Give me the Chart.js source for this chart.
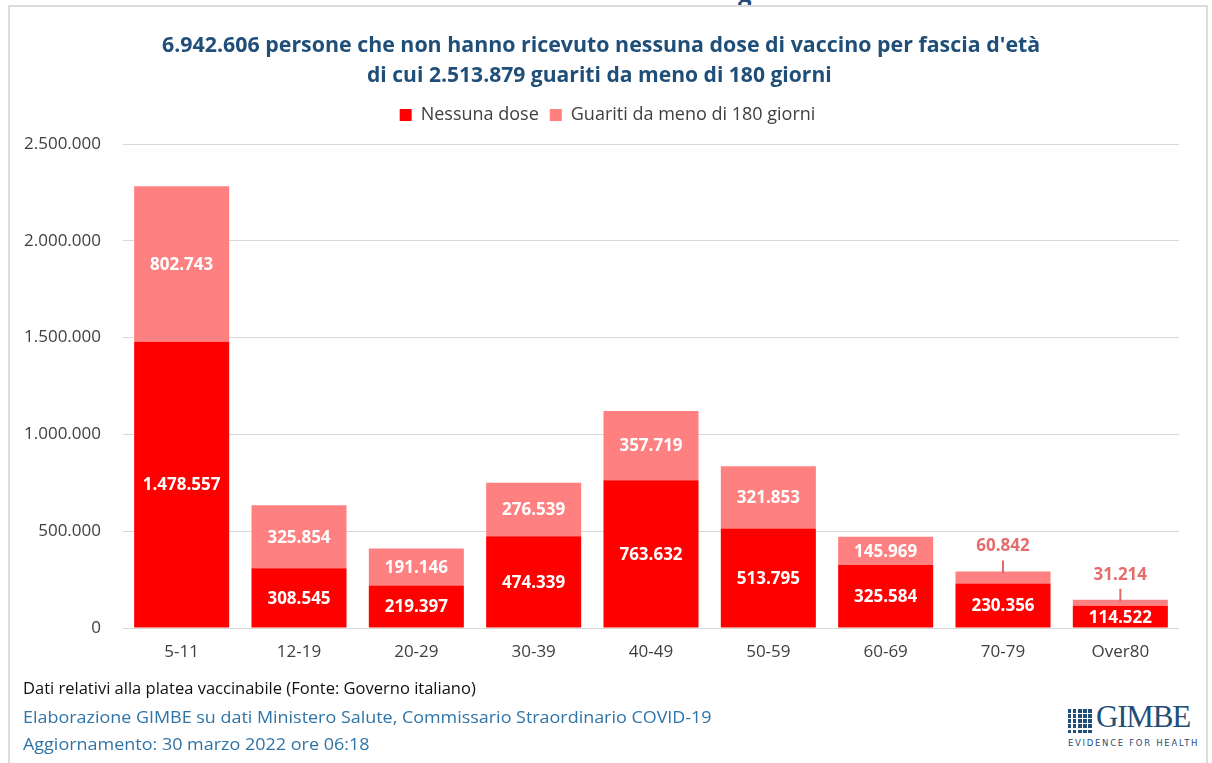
<!DOCTYPE html>
<html>
<head>
<meta charset="utf-8">
<script src="https://cdn.jsdelivr.net/npm/chart.js@4/dist/chart.umd.min.js"></script>
<style>
  body { margin: 0; width: 1212px; height: 763px; background: #fff; overflow: hidden; position: relative; font-family: "Open Sans", sans-serif; }
  .frame { position: absolute; left: 8px; top: 5px; width: 1200px; height: 780px; border: 2px solid #dcdcdc; box-sizing: border-box; }
  .topg { position: absolute; left: 738px; top: 0; height: 5px; overflow: hidden; width: 20px; }
  .topg span { position: absolute; top: -24px; font: bold 24px "Open Sans"; color: #1f4e79; }
  .t { position: absolute; white-space: nowrap; display: inline-block; }
  .title { font-weight: bold; font-size: 21px; color: #1f4e79; transform-origin: left center; }
  .foot { font-size: 16px; transform-origin: left center; }
  #wrap { position: absolute; left: 0; top: 95px; width: 1212px; height: 575px; }
  .logo { position: absolute; left: 1068px; top: 704px; width: 124px; height: 46px; }
  .logo .g2 { position: absolute; left: 0; top: 5px; width: 25px; height: 24px;
    background: repeating-linear-gradient(90deg, #1f4e79 0 3.4px, #fff 3.4px 5.1px);
    -webkit-mask: repeating-linear-gradient(0deg, #000 0 3.4px, transparent 3.4px 5.1px);
            mask: repeating-linear-gradient(0deg, #000 0 3.4px, transparent 3.4px 5.1px);
  }
  .logo .name { position: absolute; left: 28px; top: -5px; font: 31px "Liberation Serif", serif; color: #1f4e79; letter-spacing: -1.2px; }
  .logo .sub { position: absolute; left: 0; top: 34px; font: 8.5px "DejaVu Sans", sans-serif; color: #1f4e79; letter-spacing: 1.7px; white-space: nowrap; }
</style>
</head>
<body>
<div class="frame"></div>
<div class="topg"><span>g</span></div>

<div class="t title" id="t1" style="left:162px; top:30px;">6.942.606 persone che non hanno ricevuto nessuna dose di vaccino per fascia d'età</div>
<div class="t title" id="t2" style="left:367px; top:60px;">di cui 2.513.879 guariti da meno di 180 giorni</div>

<div id="wrap"><canvas id="chart"></canvas></div>

<div class="t foot" id="f1" style="left:23px; top:677px; color:#111;">Dati relativi alla platea vaccinabile (Fonte: Governo italiano)</div>
<div class="t foot" id="f2" style="left:23px; top:706px; color:#2e74a8;">Elaborazione GIMBE su dati Ministero Salute, Commissario Straordinario COVID-19</div>
<div class="t foot" id="f3" style="left:23px; top:733px; color:#2e74a8;">Aggiornamento: 30 marzo 2022 ore 06:18</div>

<div class="logo">
  <div class="g2"></div>
  <div class="name">GIMBE</div>
  <div class="sub">EVIDENCE FOR HEALTH</div>
</div>

<script>
const categories = ['5-11', '12-19', '20-29', '30-39', '40-49', '50-59', '60-69', '70-79', 'Over80'];
const nessunaDose = [1478557, 308545, 219397, 474339, 763632, 513795, 325584, 230356, 114522];
const guariti = [802743, 325854, 191146, 276539, 357719, 321853, 145969, 60842, 31214];
const yTicks = [0, 500000, 1000000, 1500000, 2000000, 2500000];

function fmt(n) {
    return String(n).replace(/\B(?=(\d{3})+(?!\d))/g, '.');
}

// squeeze html text to the width seen in the picture
function fit(id, w) {
    const el = document.getElementById(id);
    el.style.transform = 'scaleX(' + (w / el.offsetWidth) + ')';
}
fit('t1', 878);
fit('t2', 465);
fit('f1', 453);
fit('f2', 689);
fit('f3', 347);

const barLabels = {
    id: 'barLabels',
    afterDatasetsDraw(chart) {
        const ctx = chart.ctx;
        ctx.save();
        ctx.font = 'bold 17px "Open Sans"';
        ctx.textAlign = 'center';
        ctx.textBaseline = 'middle';
        chart.data.datasets.forEach(function (ds, di) {
            const meta = chart.getDatasetMeta(di);
            meta.data.forEach(function (bar, i) {
                const h = bar.base - bar.y;
                const txt = fmt(ds.data[i]);
                if (h < 20) {
                    ctx.strokeStyle = '#e06868';
                    ctx.lineWidth = 2;
                    ctx.beginPath();
                    ctx.moveTo(bar.x, bar.y - 11);
                    ctx.lineTo(bar.x, bar.y + 2);
                    ctx.stroke();
                    ctx.fillStyle = '#e46c6c';
                    ctx.fillText(txt, bar.x, bar.y - 25);
                } else {
                    ctx.fillStyle = '#fff';
                    ctx.fillText(txt, bar.x, (bar.y + bar.base) / 2 + 1);
                }
            });
        });
        ctx.restore();
    }
};

// legend sits high and a bit to the right, plot starts a bit lower
const legendSpace = {
    id: 'legendSpace',
    beforeInit(chart) {
        const fit = chart.legend.fit;
        chart.legend.fit = function () {
            fit.call(this);
            this.height += 10;
        };
    },
    afterLayout(chart) {
        chart.legend.left += 18;
        chart.legend.right += 18;
    }
};

const ctx = document.getElementById('chart').getContext('2d');
const chart = new Chart(ctx, {
    type: 'bar',
    data: {
        labels: categories,
        datasets: [{
            label: 'Nessuna dose',
            data: nessunaDose,
            backgroundColor: '#ff0000'
        }, {
            label: 'Guariti da meno di 180 giorni',
            data: guariti,
            backgroundColor: '#ff8080'
        }]
    },
    plugins: [barLabels, legendSpace],
    options: {
        responsive: true,
        maintainAspectRatio: false,
        animation: false,
        layout: { padding: { left: 0, right: 33, top: 0, bottom: 0 } },
        datasets: {
            bar: { categoryPercentage: 0.81, barPercentage: 1 }
        },
        plugins: {
            legend: {
                position: 'top',
                labels: {
                    boxWidth: 12,
                    boxHeight: 12,
                    padding: 11,
                    color: '#404040',
                    font: { family: '"Open Sans"', size: 18 }
                }
            },
            tooltip: { enabled: false }
        },
        scales: {
            x: {
                stacked: true,
                grid: { display: false },
                border: { display: false },
                ticks: { color: '#404040', font: { family: '"Open Sans"', size: 17 }, padding: 6 },
                afterFit: function (scale) { scale.height = 42; }
            },
            y: {
                stacked: true,
                min: 0,
                max: 2500000,
                afterBuildTicks: function (scale) {
                    scale.ticks = yTicks.map(function (v) { return { value: v }; });
                },
                ticks: {
                    color: '#404040',
                    font: { family: '"Open Sans"', size: 17 },
                    padding: 22,
                    callback: function (v) { return fmt(v); }
                },
                grid: { color: '#d9d9d9', drawTicks: false },
                border: { display: false },
                afterFit: function (scale) { scale.width = 123; }
            }
        }
    }
});
</script>
</body>
</html>
